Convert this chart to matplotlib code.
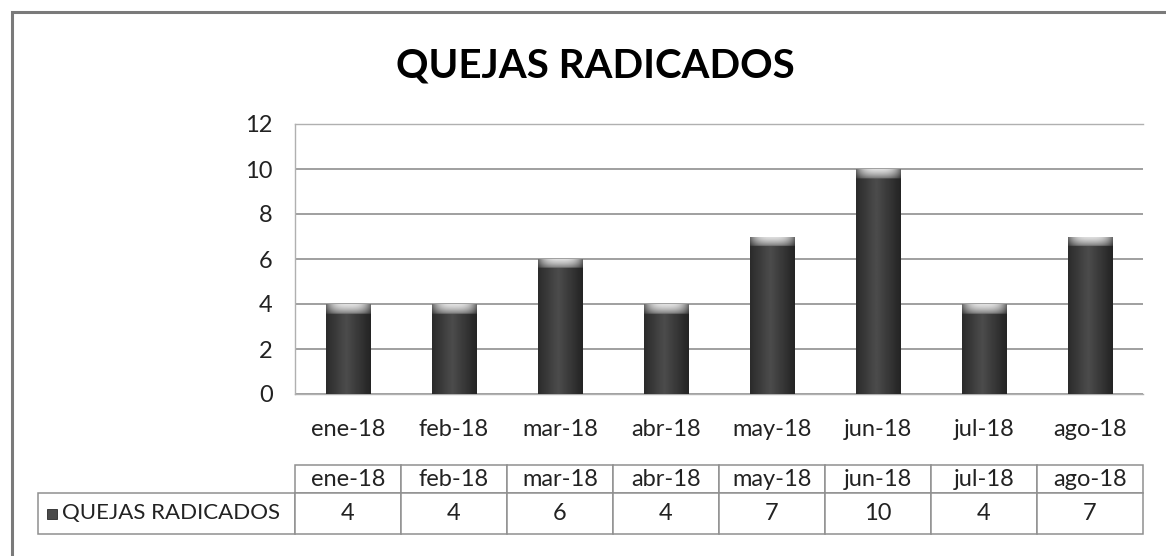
import numpy as np
import matplotlib
matplotlib.use("Agg")
import matplotlib.pyplot as plt
from matplotlib.patches import Rectangle

plt.rcParams['font.family'] = ['Lato', 'DejaVu Sans']

# ---- data ----
months = ["ene-18", "feb-18", "mar-18", "abr-18", "may-18", "jun-18", "jul-18", "ago-18"]
values = [4, 4, 6, 4, 7, 10, 4, 7]
series_name = "QUEJAS RADICADOS"
title = "QUEJAS RADICADOS"
yticks = [0, 2, 4, 6, 8, 10, 12]

W, H = 1166, 556
fig = plt.figure(figsize=(W / 100, H / 100), dpi=100)
fig.patch.set_facecolor("white")

def fx(px):
    return px / W

def fy(py):
    return 1 - py / H

# outer chart frame
fig.add_artist(Rectangle((fx(12), -0.2), 1.2, fy(12) + 0.2, transform=fig.transFigure,
                         fill=False, edgecolor="#7a7a7a", lw=2.2))

# plot area
left, right, top, bottom = 295, 1143, 124, 394
ax = fig.add_axes([fx(left), fy(bottom), fx(right - left), (bottom - top) / H])
x = np.arange(len(months))
bars = ax.bar(x, values, width=0.42, color="#3a3a3a", zorder=3, edgecolor="none")

ax.set_xlim(-0.5, len(months) - 0.5)
ax.set_ylim(0, 12)
ax.set_yticks(yticks)
ax.set_xticks(x)
ax.set_xticklabels(months)
ax.yaxis.grid(True, color="#858585", lw=1.1, zorder=0)
ax.set_axisbelow(True)
for s in ax.spines.values():
    s.set_color("#b0b0b0")
    s.set_linewidth(1.0)
ax.spines["right"].set_visible(False)
ax.tick_params(axis="both", length=0, labelcolor="#222222", labelsize=17)
ax.tick_params(axis="y", pad=16)
ax.tick_params(axis="x", pad=18)

# gradient shading for the bars (cylinder look with light top cap)
nx, ny = 40, 240
u = np.linspace(0, 1, nx)
horiz = np.clip(1 - np.abs(u - 0.45) * 1.8, 0, 1)
edge = np.abs(u - 0.5) * 2
for rect in bars:
    x0, w, h = rect.get_x(), rect.get_width(), rect.get_height()
    img = np.tile(horiz, (ny, 1))
    rgb = plt.get_cmap("gray")(0.14 + 0.16 * img)[..., :3]
    cap_units = 0.42
    rows = np.linspace(h, 0, ny)
    cap_col = np.clip(0.88 - 0.45 * edge ** 3, 0, 1)
    for i in np.where(rows > h - cap_units)[0]:
        t = (h - rows[i]) / cap_units
        shade = cap_col * (1 - 0.45 * t ** 1.5)
        rgb[i] = np.stack([shade] * 3, axis=-1)
    im = ax.imshow(rgb, extent=(x0, x0 + w, 0, h), aspect="auto", zorder=4,
                   interpolation="bilinear")
    im.set_clip_path(rect)
ax.set_xlim(-0.5, len(months) - 0.5)
ax.set_ylim(0, 12)

# title
fig.text(fx(595), fy(66), title, ha="center", va="center", fontsize=29,
         fontweight="bold", color="black")

# data table
tleft, tright, ttop, tbot = 38, 1143, 465, 534
tax = fig.add_axes([fx(tleft), fy(tbot), fx(tright - tleft), (tbot - ttop) / H])
tax.set_xlim(0, 1)
tax.set_ylim(0, 1)
tax.axis("off")
label_w = left - tleft
col_w = (tright - left) / len(months)
colw = [label_w] + [col_w] * len(months)
colw = [c / sum(colw) for c in colw]
cell_text = [[""] + months, [""] + [str(v) for v in values]]
tbl = tax.table(cellText=cell_text, colWidths=colw, cellLoc="center",
                bbox=[0, 0, 1, 1])
tbl.auto_set_font_size(False)
hdr_h = (493 - ttop) / (tbot - ttop)
for (r, c), cell in tbl.get_celld().items():
    cell.set_edgecolor("#8f8f8f")
    cell.set_linewidth(1.1)
    cell.get_text().set_fontsize(17)
    cell.get_text().set_color("#222222")
    cell.set_height(hdr_h if r == 0 else 1 - hdr_h)
    if r == 0 and c == 0:
        cell.visible_edges = ""

# row label with legend key
row_y = (1 - hdr_h) / 2
tax.text((62 - tleft) / (tright - tleft), row_y, series_name, ha="left", va="center",
         fontsize=16, color="#222222", transform=tax.transAxes, zorder=6)
sq = 10
tax.add_patch(Rectangle(((47 - tleft) / (tright - tleft), row_y - (sq / 2) / (tbot - ttop)),
                        sq / (tright - tleft), sq / (tbot - ttop),
                        facecolor="#4a4a4a", edgecolor="#2a2a2a", lw=0.6,
                        transform=tax.transAxes, zorder=5))

fig.savefig("out.png", dpi=100, facecolor="white")
